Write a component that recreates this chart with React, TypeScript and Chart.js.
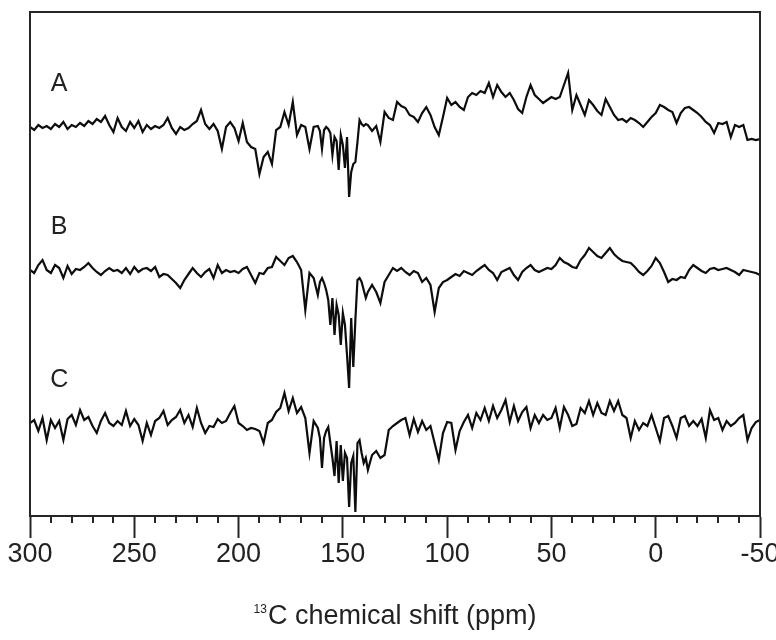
import React, { useEffect, useRef } from "react";
import { Chart, registerables } from "chart.js";

Chart.register(...registerables);

// Sample positions (ppm): 2 ppm steps, 1 ppm steps through the 161-139 ppm region
const PPM = [
  300, 298, 296, 294, 292, 290, 288, 286, 284, 282,
  280, 278, 276, 274, 272, 270, 268, 266, 264, 262,
  260, 258, 256, 254, 252, 250, 248, 246, 244, 242,
  240, 238, 236, 234, 232, 230, 228, 226, 224, 222,
  220, 218, 216, 214, 212, 210, 208, 206, 204, 202,
  200, 198, 196, 194, 192, 190, 188, 186, 184, 182,
  180, 178, 176, 174, 172, 170, 168, 166, 164, 162,
  161, 160, 159, 158, 157, 156, 155, 154, 153, 152,
  151, 150, 149, 148, 147, 146, 145, 144, 143, 142,
  141, 140, 139,
  138, 136, 134, 132, 130, 128, 126, 124, 122, 120,
  118, 116, 114, 112, 110, 108, 106, 104, 102, 100,
  98, 96, 94, 92, 90, 88, 86, 84, 82, 80,
  78, 76, 74, 72, 70, 68, 66, 64, 62, 60,
  58, 56, 54, 52, 50, 48, 46, 44, 42, 40,
  38, 36, 34, 32, 30, 28, 26, 24, 22, 20,
  18, 16, 14, 12, 10, 8, 6, 4, 2, 0,
  -2, -4, -6, -8, -10, -12, -14, -16, -18, -20,
  -22, -24, -26, -28, -30, -32, -34, -36, -38, -40,
  -42, -44, -46, -48, -50,
];

// Intensities relative to each trace's own baseline (arbitrary units)
const SPECTRUM_A = [
  0, -3, 2, -1, 1, -2, 3, 0, 5, -2,
  2, 0, 4, 1, 6, 3, 8, 5, 11, 2,
  -5, 9, 0, -4, 5, -1, 6, -5, 2, -2,
  1, -1, 2, 9, -1, -7, 0, -3, -1, 3,
  6, 17, 3, -2, 3, -4, -22, 0, 5, -1,
  -14, 4, -15, -20, -22, -47, -30, -25, -37, -3,
  0, 15, 2, 25, -8, 2, 0, -22, 0, 1,
  -4, -22, -3, 0, -2, -6, -28, -10, -14, -43,
  -8, -18, -41, -10, -70, -45, -37, -35, -15, 7,
  3, 1, 3,
  2, -4, 1, -15, 15, 9, 7, 25, 21, 19,
  12, 10, 5, 14, 20, 12, 0, -8, 10, 29,
  22, 25, 20, 17, 30, 34, 32, 36, 34, 44,
  30, 42, 35, 30, 34, 27, 18, 14, 30, 42,
  32, 28, 24, 27, 30, 28, 30, 42, 54, 17,
  32, 22, 12, 27, 22, 16, 12, 28, 20, 12,
  7, 8, 5, 9, 7, 4, 0, 5, 10, 14,
  22, 20, 17, 15, 4, 14, 19, 20, 17, 14,
  10, 5, 2, -6, 4, 3, 5, -10, 2, 0,
  2, -13, -12, -13, -12,
];

const SPECTRUM_B = [
  0, -3, 5, 10, 0, -3, 5, 2, -8, 4,
  -4, 1, 0, 3, 7, 2, -2, -5, -1, 2,
  -1, 0, -3, 2, -4, 3, -2, 1, 2, -1,
  3, -7, -4, -5, -9, -13, -18, -10, -4, 2,
  -3, -7, -2, 1, -8, 5, -3, 0, -2, -1,
  -3, 1, 3, -5, -13, -3, -4, 2, 3, 13,
  9, 5, 12, 14, 8, 0, -40, -3, -8, -25,
  -12, -8, -13, -20, -30, -55, -28, -65, -35, -45,
  -75, -43, -55, -85, -118, -48, -97, -50, -10, -8,
  -12, -20, -28,
  -22, -15, -22, -33, -12, -5, 2, -1, 2, -2,
  -5, -1, -3, -12, -8, -15, -42, -18, -12, -10,
  -7, -4, -6, -1, -3, -5, -1, 2, 5, 0,
  -3, -10, -2, 0, 2, -5, -10, -2, 2, 5,
  0, -2, 0, 2, 1, 5, 12, 8, 6, 3,
  2, 10, 15, 22, 18, 14, 12, 17, 22, 16,
  12, 9, 8, 7, 3, -2, -5, -1, 4, 12,
  7, -2, -12, -9, -10, -7, -8, 0, 5, 2,
  -1, -3, 1, 2, 0, 1, 2, 0, -2, -5,
  0, -1, -2, -3, -5,
];

const SPECTRUM_C = [
  0, 3, -8, 5, -17, 3, -5, 2, -17, 4,
  8, -2, 13, 3, 6, -3, -10, 2, 10, 0,
  -3, 2, -2, 12, -3, 4, -2, -18, 0, -12,
  2, 5, 12, -2, 3, 6, 13, 0, 8, -4,
  15, 0, -10, -3, -4, 4, 0, 2, 10, 17,
  0, -3, -7, -5, -6, -8, -20, 0, 3, 11,
  15, 30, 12, 25, 10, 16, 5, -30, 2, -5,
  -15, -45, -15, -8, -4, -20, -35, -53, -18, -60,
  -22, -58, -30, -35, -84, -40, -33, -89, -20, -17,
  -30, -40, -35,
  -47, -32, -28, -35, -32, -7, -3, 0, 3, 5,
  -12, 4, -9, 2, -7, -3, -20, -37, -10, 1,
  0, -27, -8, 1, 8, -5, 10, 3, 15, 2,
  17, 5, 13, 23, 1, 17, 2, 11, 16, -5,
  8, 0, 8, 3, 5, 15, -5, 16, 8, -3,
  -1, 15, 10, 22, 8, 20, 10, 8, 22, 12,
  22, 8, 5, -15, 2, -7, 0, -3, 8, -5,
  -18, 5, 7, -3, -15, 5, 7, -3, 2, -3,
  4, -15, 13, 3, 5, -7, 2, -3, 0, 5,
  8, -17, -5, 1, 3,
];

const SERIES_NAMES = ["A", "B", "C"];
const SERIES_OFFSETS = [389, 246, 93];
const X_TICK_VALUES = [300, 250, 200, 150, 100, 50, 0, -50];
const X_MINOR_TICKS = [
  290, 280, 270, 260, 240, 230, 220, 210, 190, 180, 170, 160,
  140, 130, 120, 110, 90, 80, 70, 60, 40, 30, 20, 10,
  -10, -20, -30, -40,
];
const AXIS_TITLE_SUP = "13";
const AXIS_TITLE_MAIN = "C chemical shift (ppm)";
const LABEL_PPM = 286;
const LABEL_RISE = 43;

const INK = "#262626";
const FONT = '"Liberation Sans", Arial, Helvetica, sans-serif';

const decorPlugin = {
  id: "decor",
  afterDraw(chart: any) {
    const { ctx, chartArea: ca, scales } = chart;
    const xs = scales.x;
    const ys = scales.y;
    ctx.save();
    ctx.strokeStyle = INK;
    ctx.lineWidth = 2;
    ctx.beginPath();
    ctx.moveTo(ca.left, ca.bottom);
    ctx.lineTo(ca.left, ca.top);
    ctx.lineTo(ca.right, ca.top);
    ctx.lineTo(ca.right, ca.bottom);
    ctx.stroke();

    ctx.beginPath();
    X_MINOR_TICKS.forEach((v) => {
      const px = Math.round(xs.getPixelForValue(v));
      ctx.moveTo(px, ca.bottom);
      ctx.lineTo(px, ca.bottom + 7);
    });
    ctx.stroke();

    ctx.fillStyle = "#222";
    ctx.font = `25px ${FONT}`;
    ctx.textAlign = "center";
    ctx.textBaseline = "middle";
    SERIES_NAMES.forEach((name, i) => {
      ctx.fillText(
        name,
        xs.getPixelForValue(LABEL_PPM),
        ys.getPixelForValue(SERIES_OFFSETS[i] + LABEL_RISE)
      );
    });

    // axis title with superscript
    ctx.textAlign = "left";
    ctx.textBaseline = "alphabetic";
    ctx.font = `12px ${FONT}`;
    const supW = ctx.measureText(AXIS_TITLE_SUP).width;
    ctx.font = `27px ${FONT}`;
    const mainW = ctx.measureText(AXIS_TITLE_MAIN).width;
    const cx = (ca.left + ca.right) / 2;
    const startX = cx - (supW + 1 + mainW) / 2;
    const baseY = 624;
    ctx.font = `12px ${FONT}`;
    ctx.fillText(AXIS_TITLE_SUP, startX, baseY - 11);
    ctx.font = `27px ${FONT}`;
    ctx.fillText(AXIS_TITLE_MAIN, startX + supW + 1, baseY);
    ctx.restore();
  },
};

export default function App() {
  const canvasRef = useRef<HTMLCanvasElement | null>(null);

  useEffect(() => {
    const canvas = canvasRef.current;
    if (!canvas) return;
    const series = [SPECTRUM_A, SPECTRUM_B, SPECTRUM_C];
    const chart = new Chart(canvas, {
      type: "line",
      data: {
        datasets: series.map((vals, i) => ({
          label: SERIES_NAMES[i],
          data: PPM.map((x, j) => ({ x, y: vals[j] + SERIES_OFFSETS[i] })),
          borderColor: "#0d0d0d",
          borderWidth: 2.2,
          pointRadius: 0,
          tension: 0,
          fill: false,
        })),
      },
      options: {
        responsive: false,
        devicePixelRatio: 1,
        animation: false,
        events: [],
        layout: { padding: { left: 30, right: 16, top: 12, bottom: 0 } },
        plugins: {
          legend: { display: false },
          tooltip: { enabled: false },
          title: { display: false },
        },
        scales: {
          x: {
            type: "linear",
            reverse: true,
            min: -50,
            max: 300,
            afterBuildTicks: (scale: any) => {
              scale.ticks = X_TICK_VALUES.map((v) => ({ value: v }));
            },
            afterFit: (scale: any) => {
              scale.height = 124;
              scale.paddingLeft = 0;
              scale.paddingRight = 0;
            },
            grid: {
              display: true,
              drawOnChartArea: false,
              drawTicks: true,
              tickLength: 22,
              tickWidth: 2,
              tickColor: INK,
            },
            border: { display: true, color: INK, width: 2 },
            ticks: {
              autoSkip: false,
              maxRotation: 0,
              padding: 0,
              color: "#222",
              font: { family: FONT, size: 27 },
              callback: (v: any) => String(v),
            },
          },
          y: {
            display: false,
            min: 0,
            max: 504,
          },
        },
      },
      plugins: [decorPlugin],
    });
    return () => chart.destroy();
  }, []);

  return (
    <div
      style={{
        position: "absolute",
        left: 0,
        top: 0,
        width: 776,
        height: 640,
        background: "#fff",
      }}
    >
      <canvas ref={canvasRef} width={776} height={640} />
    </div>
  );
}
